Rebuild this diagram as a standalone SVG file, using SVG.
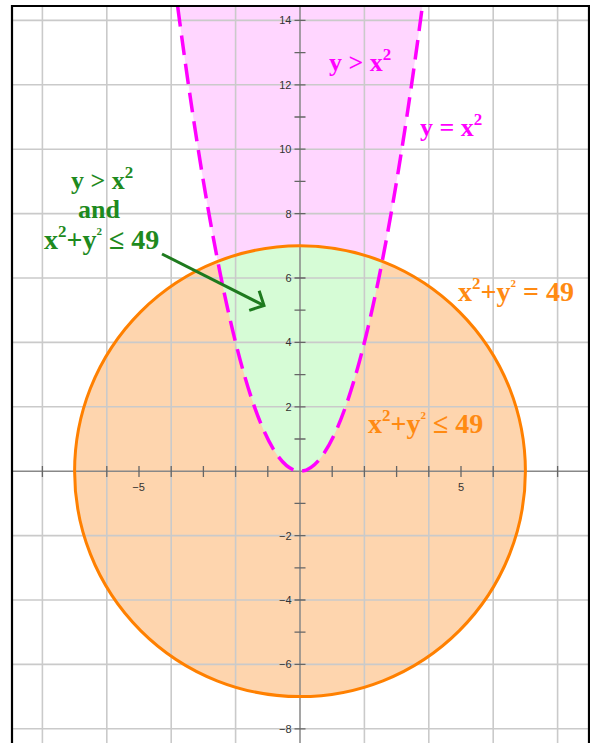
<svg xmlns="http://www.w3.org/2000/svg" width="590" height="743" viewBox="0 0 590 743">
<style>
.grid{stroke:#cacaca;stroke-width:1.6;fill:none}
.axis{stroke:#888;stroke-width:1.5;fill:none}
.tick{stroke:#666;stroke-width:1.3;fill:none}
.tl{font-family:"Liberation Sans",Arial,sans-serif;font-size:11px;fill:#333}
.lab{font-family:"Liberation Serif","Times New Roman",serif;font-weight:bold;font-size:26px}
.big{font-size:28px}
.mag{fill:#ff00ff}
.grn{fill:#1e8a1e}
.org{fill:#ff8a12}
</style>
<defs>
<clipPath id="circClip"><circle cx="300" cy="471.2" r="225.4"/></clipPath>
<path id="parab" d="M177.64,6.2 Q300,936.2 422.36,6.2"/>
<marker id="openArrow" viewBox="-13 -13 15 26" markerWidth="15" markerHeight="26" refX="0" refY="0" orient="auto" markerUnits="userSpaceOnUse">
<path d="M-11,-11 L0,0 L-11,11" fill="none" stroke="#1e7a1e" stroke-width="3" stroke-linejoin="miter"/>
</marker>
</defs>
<rect x="0" y="0" width="590" height="743" fill="#fff"/>
<g id="regions">
<path id="pinkRegion" d="M177.64,6.2 Q300,936.2 422.36,6.2 Z" fill="#ffd6ff"/>
<circle id="orangeRegion" cx="300" cy="471.2" r="225.4" fill="#fed5ae"/>
<path id="greenRegion" d="M177.64,6.2 Q300,936.2 422.36,6.2 Z" fill="#d6fcd6" clip-path="url(#circClip)"/>
</g>
<g id="gridLines">
<path class="grid" d="M42.4,6V743M106.8,6V743M171.2,6V743M235.6,6V743M364.4,6V743M428.8,6V743M493.2,6V743M557.6,6V743M12,20.4H589M12,84.8H589M12,149.2H589M12,213.6H589M12,278H589M12,342.4H589M12,406.8H589M12,535.6H589M12,600H589M12,664.4H589M12,728.8H589"/>
</g>
<g id="axes">
<path class="axis" d="M12,471.2H589M300,6V743"/>
<path class="tick" d="M294.5,20.4h11M294.5,52.6h11M294.5,84.8h11M294.5,117h11M294.5,149.2h11M294.5,181.4h11M294.5,213.6h11M294.5,245.8h11M294.5,278h11M294.5,310.2h11M294.5,342.4h11M294.5,374.6h11M294.5,406.8h11M294.5,439h11M294.5,503.4h11M294.5,535.6h11M294.5,567.8h11M294.5,600h11M294.5,632.2h11M294.5,664.4h11M294.5,696.6h11M294.5,728.8h11M42.4,466v11M74.6,466v11M106.8,466v11M139,466v11M171.2,466v11M203.4,466v11M235.6,466v11M267.8,466v11M332.2,466v11M364.4,466v11M396.6,466v11M428.8,466v11M461,466v11M493.2,466v11M525.4,466v11M557.6,466v11"/>
<g class="tl" text-anchor="end">
<text x="291.5" y="24.4">14</text>
<text x="291.5" y="88.8">12</text>
<text x="291.5" y="153.2">10</text>
<text x="291.5" y="217.6">8</text>
<text x="291.5" y="282">6</text>
<text x="291.5" y="346.4">4</text>
<text x="291.5" y="410.8">2</text>
<text x="291.5" y="539.6">−2</text>
<text x="291.5" y="604">−4</text>
<text x="291.5" y="668.4">−6</text>
<text x="291.5" y="732.8">−8</text>
</g>
<g class="tl" text-anchor="middle">
<text x="138.5" y="491">−5</text>
<text x="461" y="491">5</text>
</g>
</g>
<g id="curves">
<circle id="circle" cx="300" cy="471.2" r="225.4" fill="none" stroke="#ff8000" stroke-width="3"/>
<use id="parabola" href="#parab" fill="none" stroke="#ff00ff" stroke-width="3.5" stroke-dasharray="20 9"/>
</g>
<g id="frame" fill="none" stroke="#000">
<path d="M12,743V6H589V743" stroke-width="2.2"/>
</g>
<g id="label-y-gt-x2">
<text class="lab mag" x="329" y="71">y &gt; x<tspan font-size="17" dy="-11">2</tspan></text>
</g>
<g id="label-y-eq-x2">
<text class="lab mag" x="420" y="136">y = x<tspan font-size="17" dy="-11">2</tspan></text>
</g>
<g id="label-intersection" class="lab grn">
<text x="71" y="188.5">y &gt; x<tspan font-size="17" dy="-11">2</tspan></text>
<text x="78" y="218">and</text>
<text class="big" x="44" y="249">x<tspan font-size="17" dy="-12">2</tspan><tspan dy="12">+y</tspan><tspan font-size="11" dy="-14">2</tspan><tspan dy="14"> ≤ 49</tspan></text>
</g>
<g id="label-circle-eq">
<text class="lab big org" x="458" y="301">x<tspan font-size="17" dy="-12">2</tspan><tspan dy="12">+y</tspan><tspan font-size="11" dy="-14">2</tspan><tspan dy="14"> = 49</tspan></text>
</g>
<g id="label-circle-le">
<text class="lab big org" x="368" y="433">x<tspan font-size="17" dy="-12">2</tspan><tspan dy="12">+y</tspan><tspan font-size="11" dy="-14">2</tspan><tspan dy="14"> ≤ 49</tspan></text>
</g>
<g id="connectors">
<line x1="162" y1="254" x2="264" y2="305.5" stroke="#1e7a1e" stroke-width="3" marker-end="url(#openArrow)"/>
</g>
</svg>
